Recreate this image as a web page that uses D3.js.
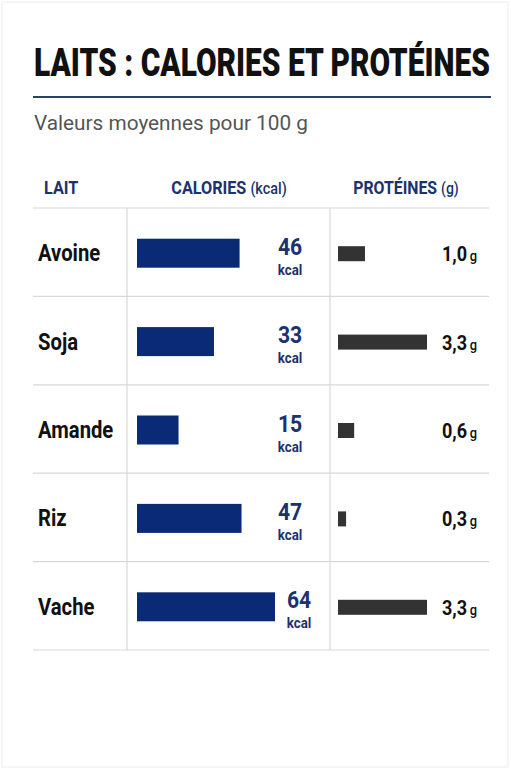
<!DOCTYPE html>
<html>
<head>
<meta charset="utf-8">
<script src="https://cdn.jsdelivr.net/npm/d3@7"></script>
<style>
  html, body { margin: 0; padding: 0; background: #fff; }
  svg { display: block; }
</style>
</head>
<body>
<div id="chart"></div>
<script>
// ---- data ----
const milks = ["Avoine", "Soja", "Amande", "Riz", "Vache"];
const calories = [46, 33, 15, 47, 64];
const proteins = [1.0, 3.3, 0.6, 0.3, 3.3];
const proteinLabels = ["1,0", "3,3", "0,6", "0,3", "3,3"];
const headers = ["LAIT", "CALORIES", "PROTÉINES"];
const headerUnits = ["", "(kcal)", "(g)"];
const title = "LAITS : CALORIES ET PROTÉINES";
const subtitle = "Valeurs moyennes pour 100 g";

const W = 511, H = 768;
const FONT = "Roboto, 'Liberation Sans', sans-serif";
const NAVY = "#0b2a75", NAVY_TXT = "#1b326e", DARK = "#333333", GRID = "#d8d8d8";

const svg = d3.select("#chart").append("svg").attr("width", W).attr("height", H);
svg.append("rect").attr("x", 2).attr("y", 2).attr("width", W - 5).attr("height", H - 3)
  .attr("fill", "#fff").attr("stroke", "#ededed");

// condensed text helper
function ctext(g, x, y, txt, opts) {
  const sx = opts.sx || 0.86;
  return g.append("text")
    .attr("transform", `translate(${x},${y}) scale(${sx},1)`)
    .attr("text-anchor", opts.anchor || "start")
    .attr("font-family", FONT)
    .attr("font-weight", opts.weight || 700)
    .attr("font-size", opts.size)
    .attr("fill", opts.fill || "#111")
    .text(txt);
}

// Title: condensed to fit the rule width
const titleEl = ctext(svg, 34, 76, title, {size: 38, weight: 900, fill: "#111", sx: 1});
const natural = titleEl.node().getComputedTextLength();
titleEl.attr("transform", `translate(34,76) scale(${456 / natural},1)`);

svg.append("line").attr("x1", 33).attr("x2", 491).attr("y1", 97).attr("y2", 97)
  .attr("stroke", "#2c3f6a").attr("stroke-width", 2);
ctext(svg, 34, 130, subtitle, {size: 21, weight: 400, fill: "#555", sx: 0.99});

// table geometry
const tableLeft = 33, tableRight = 489;
const colCal = 127, colProt = 330;
const y = d3.scaleBand().domain(milks).range([208, 650]);
const xCal = d3.scaleLinear().domain([0, 64]).range([12, 138]);
const xProt = d3.scaleLinear().domain([0, 3.3]).range([0, 89]);
const calBarX = 137, protBarX = 338;

// headers
const hY = 194;
const hdr = svg.append("g");
ctext(hdr, 44, hY, headers[0], {size: 18, fill: NAVY_TXT, sx: 0.9});
function headerWithUnit(cx, main, unit, sx) {
  const t = hdr.append("text")
    .attr("transform", `translate(${cx},${hY}) scale(${sx},1)`)
    .attr("text-anchor", "middle").attr("font-family", FONT).attr("fill", NAVY_TXT);
  t.append("tspan").attr("font-weight", 700).attr("font-size", 18).text(main + " ");
  t.append("tspan").attr("font-weight", 500).attr("font-size", 16).text(unit);
}
headerWithUnit(229, headers[1], headerUnits[1], 0.9);
headerWithUnit(406, headers[2], headerUnits[2], 0.88);

// grid lines
const grid = svg.append("g").attr("stroke", GRID).attr("stroke-width", 1.2);
grid.append("line").attr("x1", tableLeft).attr("x2", tableRight).attr("y1", 208).attr("y2", 208);
grid.selectAll("line.row").data(milks).join("line").attr("class", "row")
  .attr("x1", tableLeft).attr("x2", tableRight)
  .attr("y1", d => y(d) + y.bandwidth()).attr("y2", d => y(d) + y.bandwidth());
[colCal, colProt].forEach(x => grid.append("line").attr("x1", x).attr("x2", x)
  .attr("y1", 208).attr("y2", 650));

// rows
const rows = svg.selectAll("g.rowg").data(milks).join("g").attr("class", "rowg")
  .attr("transform", d => `translate(0,${y(d) + y.bandwidth() / 2})`);

rows.each(function(d, i) {
  const g = d3.select(this);
  ctext(g, 38, 9, d, {size: 23, fill: "#111", sx: 0.88});
  // calorie bar
  g.append("rect").attr("x", calBarX).attr("y", -13.5)
    .attr("width", xCal(calories[i])).attr("height", 29).attr("fill", NAVY);
  const cx = Math.max(290, calBarX + xCal(calories[i]) + 24);
  ctext(g, cx, 2.5, String(calories[i]), {size: 24, anchor: "middle", fill: NAVY_TXT, sx: 0.88});
  ctext(g, cx, 22.5, "kcal", {size: 14, anchor: "middle", fill: NAVY_TXT, sx: 0.95});
  // protein bar
  g.append("rect").attr("x", protBarX).attr("y", -6)
    .attr("width", xProt(proteins[i])).attr("height", 15).attr("fill", DARK);
  const t = g.append("text")
    .attr("transform", `translate(442,9) scale(0.86,1)`)
    .attr("font-family", FONT).attr("fill", "#111");
  t.append("tspan").attr("font-weight", 700).attr("font-size", 21).text(proteinLabels[i]);
  t.append("tspan").attr("font-weight", 500).attr("font-size", 15).attr("dx", 3).text("g");
});
</script>
</body>
</html>
